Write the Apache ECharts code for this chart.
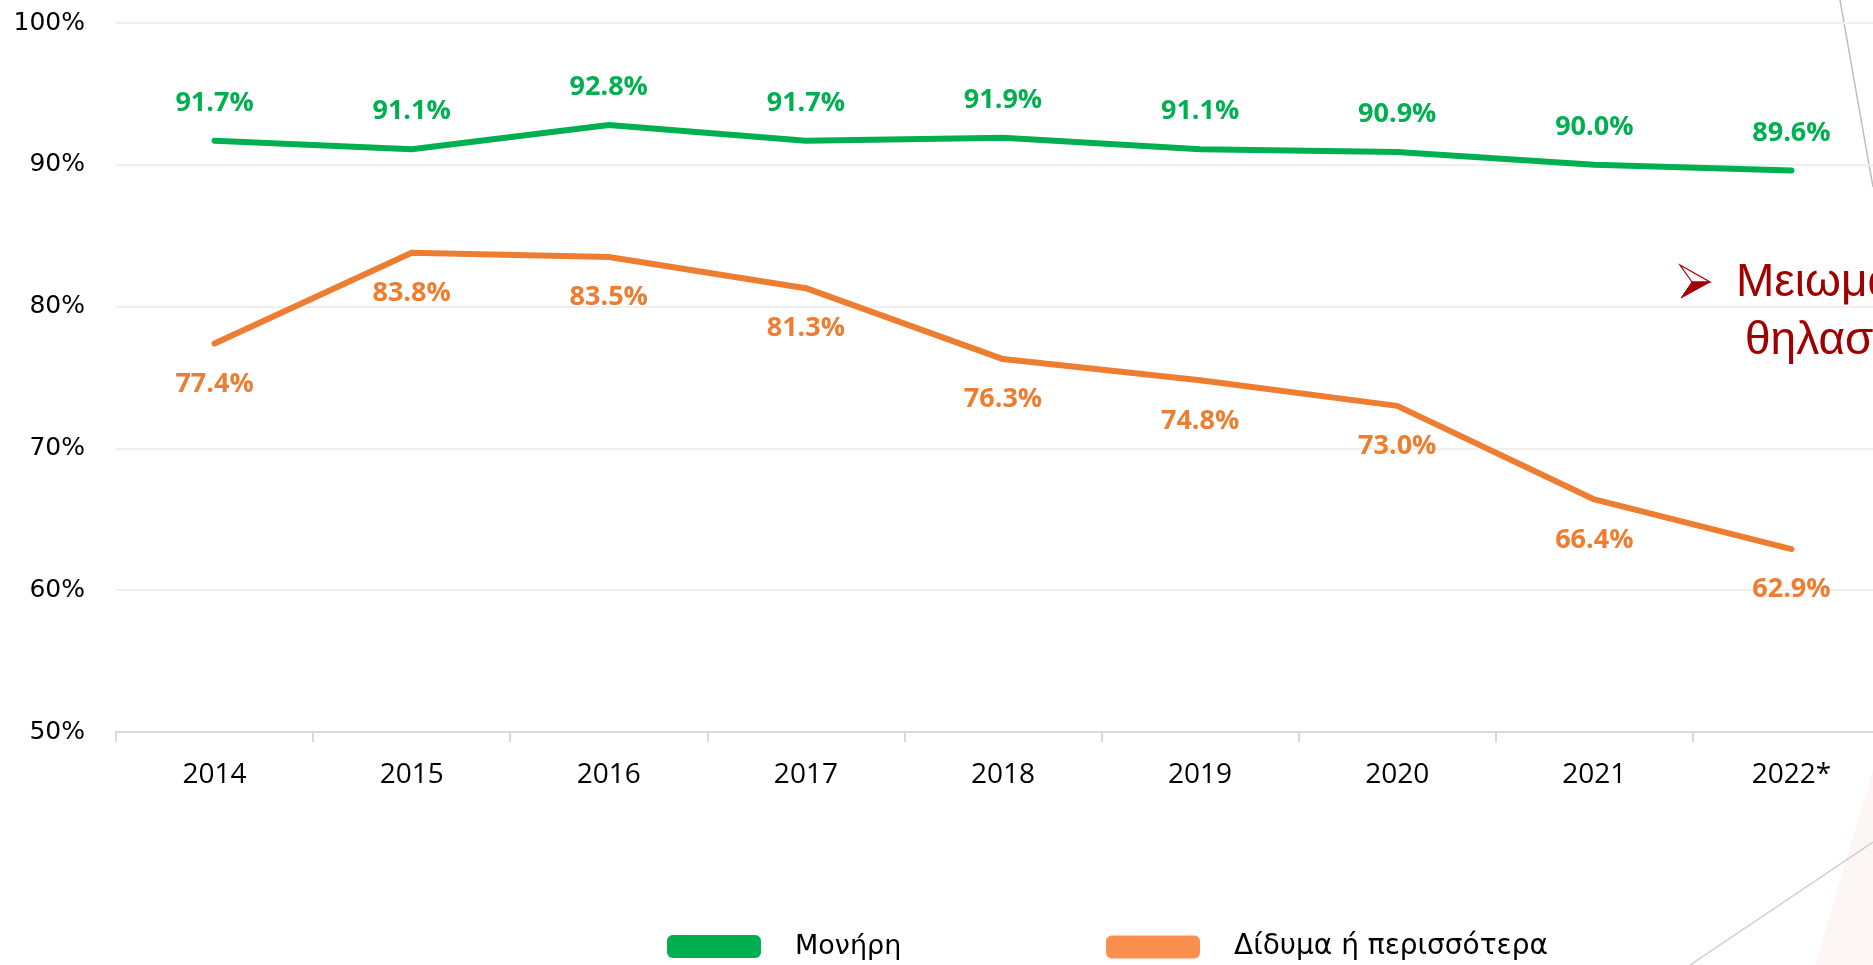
<!DOCTYPE html>
<html>
<head>
<meta charset="utf-8">
<title>Μονήρη / Δίδυμα</title>
<script src="https://cdn.jsdelivr.net/npm/echarts@6/dist/echarts.min.js"></script>
<style>
  html, body {
    margin: 0;
    padding: 0;
    background: #fff;
  }
  #chart {
    width: 1873px;
    height: 965px;
  }
</style>
</head>
<body>
<div id="chart"></div>
<script>
// έτη
const years = ["2014", "2015", "2016", "2017", "2018", "2019", "2020", "2021", "2022*"];
// ποσοστά (%)
const singleBirths = [91.7, 91.1, 92.8, 91.7, 91.9, 91.1, 90.9, 90.0, 89.6];
const multipleBirths = [77.4, 83.8, 83.5, 81.3, 76.3, 74.8, 73.0, 66.4, 62.9];
const seriesNames = ["Μονήρη", "Δίδυμα ή περισσότερα"];
// η σημείωση κόβεται στην άκρη της διαφάνειας
const noteLines = ["Μειωμα", "θηλασ"];

const green = "#00b050";
const orange = "#ed7d31";
const darkRed = "#a00000";

const chart = echarts.init(document.getElementById("chart"));

const pct = (p) => p.value.toFixed(1) + "%";

const option = {
  animation: false,
  grid: {
    left: 116,
    top: 23,
    width: 1774,
    height: 709,
    outerBoundsMode: "none",
  },
  xAxis: {
    type: "category",
    data: years,
    boundaryGap: true,
    axisLine: { lineStyle: { color: "#d9d9d9", width: 2 } },
    axisTick: { show: true, length: 10, lineStyle: { color: "#d9d9d9", width: 2 } },
    axisLabel: {
      margin: 29,
      color: "#000",
      fontFamily: "Open Sans",
      fontSize: 28,
    },
  },
  yAxis: {
    type: "value",
    min: 50,
    max: 100,
    interval: 10,
    axisLine: { show: false },
    axisTick: { show: false },
    axisLabel: {
      margin: 31,
      color: "#000",
      fontFamily: "DejaVu Sans",
      fontSize: 25,
      formatter: "{value}%",
    },
    splitLine: { lineStyle: { color: "#efefef", width: 2 } },
  },
  legend: [
    {
      left: 662,
      top: 928,
      itemWidth: 94,
      itemHeight: 23,
      icon: "roundRect",
      data: [{ name: seriesNames[0], itemStyle: { color: green } }],
      textStyle: { color: "#000", fontFamily: "DejaVu Sans", fontSize: 27, padding: [0, 0, 0, 29] },
    },
    {
      left: 1101,
      top: 928,
      itemWidth: 94,
      itemHeight: 23,
      icon: "roundRect",
      data: [{ name: seriesNames[1], itemStyle: { color: "#fb8f50" } }],
      textStyle: { color: "#000", fontFamily: "DejaVu Sans", fontSize: 28, padding: [0, 0, 0, 29] },
    },
  ],
  series: [
    {
      name: seriesNames[0],
      type: "line",
      data: singleBirths,
      symbol: "circle",
      symbolSize: 2,
      showSymbol: true,
      lineStyle: { color: green, width: 6, cap: "round", join: "round" },
      itemStyle: { color: green },
      label: {
        show: true,
        position: "top",
        distance: 23,
        color: green,
        fontFamily: "Open Sans",
        fontWeight: "bold",
        fontSize: 27,
        formatter: pct,
      },
    },
    {
      name: seriesNames[1],
      type: "line",
      data: multipleBirths,
      symbol: "circle",
      symbolSize: 2,
      showSymbol: true,
      lineStyle: { color: orange, width: 6, cap: "round", join: "round" },
      itemStyle: { color: orange },
      label: {
        show: true,
        position: "bottom",
        distance: 26,
        color: orange,
        fontFamily: "Open Sans",
        fontWeight: "bold",
        fontSize: 27,
        formatter: pct,
      },
    },
  ],
  // διακοσμητικά της διαφάνειας και σημείωση
  graphic: [
    {
      type: "polygon",
      shape: { points: [[1815, 965], [1873, 770], [1873, 965]] },
      style: { fill: "#fcf6f4" },
      silent: true,
    },
    {
      type: "line",
      shape: { x1: 1840, y1: 0, x2: 1873, y2: 187 },
      style: { stroke: "#bfbfbf", lineWidth: 1.5 },
      silent: true,
    },
    {
      type: "line",
      shape: { x1: 1690, y1: 965, x2: 1873, y2: 842 },
      style: { stroke: "#cfcfcf", lineWidth: 1.5 },
      silent: true,
    },
    {
      type: "polygon",
      shape: { points: [[1680, 265], [1710, 282], [1692, 282]] },
      style: { fill: "#fff", stroke: darkRed, lineWidth: 1.2 },
      silent: true,
    },
    {
      type: "polygon",
      shape: { points: [[1692, 282], [1710, 282], [1681, 298]] },
      style: { fill: darkRed, stroke: darkRed, lineWidth: 1 },
      silent: true,
    },
    {
      type: "text",
      x: 1736,
      y: 283,
      style: {
        text: noteLines[0],
        fill: darkRed,
        font: "46px 'Liberation Sans'",
        verticalAlign: "middle",
      },
      silent: true,
    },
    {
      type: "text",
      x: 1745,
      y: 341,
      style: {
        text: noteLines[1],
        fill: darkRed,
        font: "46px 'Liberation Sans'",
        verticalAlign: "middle",
      },
      silent: true,
    },
  ],
};

chart.setOption(option);
</script>
</body>
</html>
